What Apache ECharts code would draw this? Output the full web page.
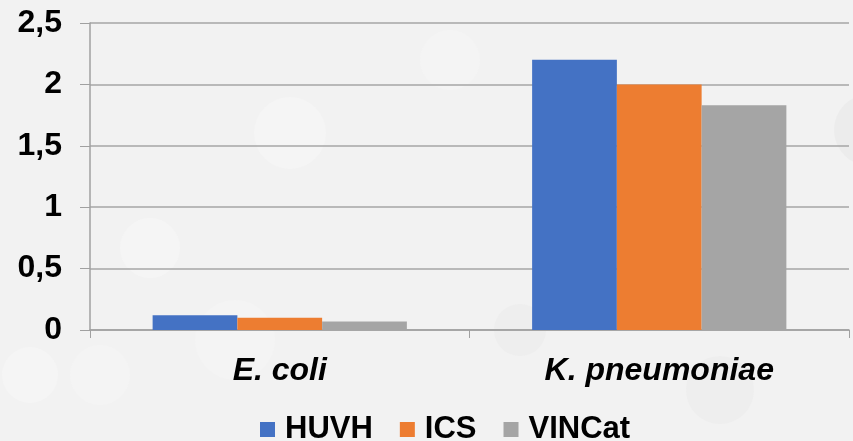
<!DOCTYPE html>
<html>
<head>
<meta charset="utf-8">
<script src="https://cdn.jsdelivr.net/npm/echarts@6/dist/echarts.min.js"></script>
<style>
  html, body { margin: 0; padding: 0; background: #f2f2f2; }
  #chart { width: 853px; height: 441px; }
</style>
</head>
<body>
<div id="chart"></div>
<script>
const categories = ['E. coli', 'K. pneumoniae'];
const seriesNames = ['HUVH', 'ICS', 'VINCat'];
const huvh = [0.12, 2.2];
const ics = [0.10, 2.0];
const vincat = [0.07, 1.83];
const colors = ['#4472c4', '#ed7d31', '#a5a5a5'];

const chart = echarts.init(document.getElementById('chart'));

// faint decorative circles of the slide background
const bgCircles = [
  [290, 133, 36, '#f5f5f5'], [450, 60, 30, '#f4f4f4'], [150, 248, 30, '#f5f5f5'],
  [30, 375, 28, '#f5f5f5'], [100, 375, 30, '#f4f4f4'], [235, 340, 40, '#f4f4f4'],
  [870, 130, 36, '#ececec'], [720, 390, 34, '#eeeeee'], [520, 330, 26, '#eeeeee']
];

chart.setOption({
  backgroundColor: '#f2f2f2',
  animation: false,
  graphic: bgCircles.map(c => ({
    type: 'circle', z: -10, silent: true,
    shape: { cx: c[0], cy: c[1], r: c[2] },
    style: { fill: c[3] }
  })),
  textStyle: { fontFamily: 'Liberation Sans, Arial, sans-serif' },
  grid: { left: 90, right: 4, top: 23, bottom: 111 },
  legend: {
    data: seriesNames,
    left: 255, top: 409,
    itemWidth: 15, itemHeight: 15, itemGap: 27,
    icon: 'rect',
    textStyle: { fontSize: 31, fontWeight: 'bold', color: '#000', padding: [0, 0, 0, 5] }
  },
  xAxis: {
    type: 'category',
    data: categories,
    axisLine: { lineStyle: { color: '#a0a0a0', width: 1.5 } },
    axisTick: { show: true, length: 8, lineStyle: { color: '#a0a0a0' } },
    axisLabel: { fontSize: 32, fontWeight: 'bold', fontStyle: 'italic', color: '#000', margin: 25 }
  },
  yAxis: {
    type: 'value',
    min: 0, max: 2.5, interval: 0.5,
    axisLine: { show: true, lineStyle: { color: '#a0a0a0', width: 1.5 } },
    axisTick: { show: true, length: 10, lineStyle: { color: '#a0a0a0' } },
    splitLine: { lineStyle: { color: '#a6a6a6', width: 1.5 } },
    axisLabel: {
      fontSize: 32, fontWeight: 'bold', color: '#000', margin: 28,
      formatter: v => String(v).replace('.', ',')
    }
  },
  series: [huvh, ics, vincat].map((d, i) => ({
    name: seriesNames[i],
    type: 'bar',
    data: d,
    barGap: '0%',
    barCategoryGap: '33%',
    itemStyle: { color: colors[i] }
  }))
});
</script>
</body>
</html>
